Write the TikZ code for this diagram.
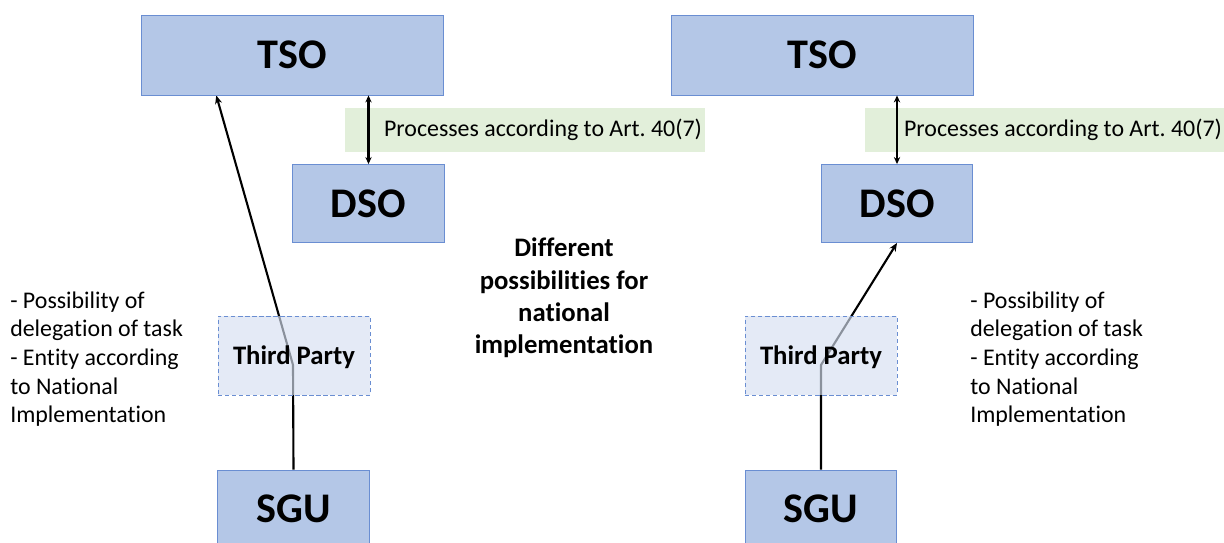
\documentclass[tikz,border=0pt]{standalone}
\usepackage{fontspec}
\setmainfont{Carlito}[Ligatures={NoCommon}]
\usetikzlibrary{positioning,calc,backgrounds,arrows.meta}

\definecolor{boxfill}{HTML}{B4C7E7}
\definecolor{boxline}{HTML}{6A8ED2}
\definecolor{tpfill}{HTML}{D5DFF1}
\definecolor{notefill}{HTML}{E2EFDA}

\tikzset{node distance=2cm, auto,
  actor/.style={draw=boxline, fill=boxfill, line width=0.6pt,
    minimum width=3.78cm, minimum height=1.95cm,
    font=\fontsize{30}{36}\selectfont\bfseries},
  party/.style={draw=boxline, dash pattern=on 3pt off 2pt, fill=tpfill,
    fill opacity=0.65, text opacity=1, line width=0.6pt, text depth=0pt,
    minimum width=3.8cm, minimum height=1.975cm,
    font=\fontsize{19}{23}\selectfont\bfseries},
  process/.style={fill=notefill, inner xsep=2pt, minimum height=1.1cm,
    font=\fontsize{17}{20}\selectfont},
  remark/.style={align=left, inner sep=0pt, font=\fontsize{17}{20.4}\selectfont},
  link/.style={line width=1.5pt, -{Stealth[length=6pt,width=5pt]}},
  twoway/.style={line width=1.5pt, {Stealth[length=5pt,width=4.5pt]}-{Stealth[length=5pt,width=4.5pt]}}
}

\begin{document}
\begin{tikzpicture}[x=0.025cm, y=-0.025cm]
  \useasboundingbox (0,0) rectangle (1224,543);

  \node (TSOa) [actor, minimum width=7.55cm, minimum height=2cm] at (292,55) {TSO};
  \node (DSOa) [actor] at (368.5,203.5) {DSO};
  \node (TPa) [party] at (294,355.5) {Third Party};
  \node (SGUa) [actor] at (293.5,509) {SGU};
  \node (procA) [process, anchor=west] at (345,130) {\hspace*{0.9cm}Processes according to Art.~40(7)};
  \node (noteA) [remark, anchor=west] at (10,359) {- Possibility of\\delegation of task\\- Entity according\\to National\\Implementation};

  \node (TSOb) [actor, minimum width=7.55cm, minimum height=2cm] at (822,55) {TSO};
  \node (DSOb) [actor] at (897,203.5) {DSO};
  \node (TPb) [party] at (821,355.5) {Third Party};
  \node (SGUb) [actor] at (821,509) {SGU};
  \node (procB) [process, anchor=west] at (865,130) {\hspace*{0.9cm}Processes according to Art.~40(7)};
  \node (noteB) [remark, anchor=west] at (970,359) {- Possibility of\\delegation of task\\- Entity according\\to National\\Implementation};

  \node (caption) [align=center, font=\fontsize{19}{23}\selectfont\bfseries] at (564,298)
    {Different\\possibilities for\\national\\implementation};

  \coordinate (kinkA) at (293,365);
  \coordinate (kinkB) at (821,365);
  \begin{scope}[on background layer]
    \draw[link] (SGUa.north) -- (kinkA) -- ($(TSOa.south west)!0.25!(TSOa.south east)$);
    \draw[link] (SGUb.north) -- (kinkB) -- (DSOb.south);
  \end{scope}
  \draw[twoway] (DSOa.north) -- (DSOa.north |- TSOa.south);
  \draw[twoway] (DSOb.north) -- (DSOb.north |- TSOb.south);
\end{tikzpicture}
\end{document}
